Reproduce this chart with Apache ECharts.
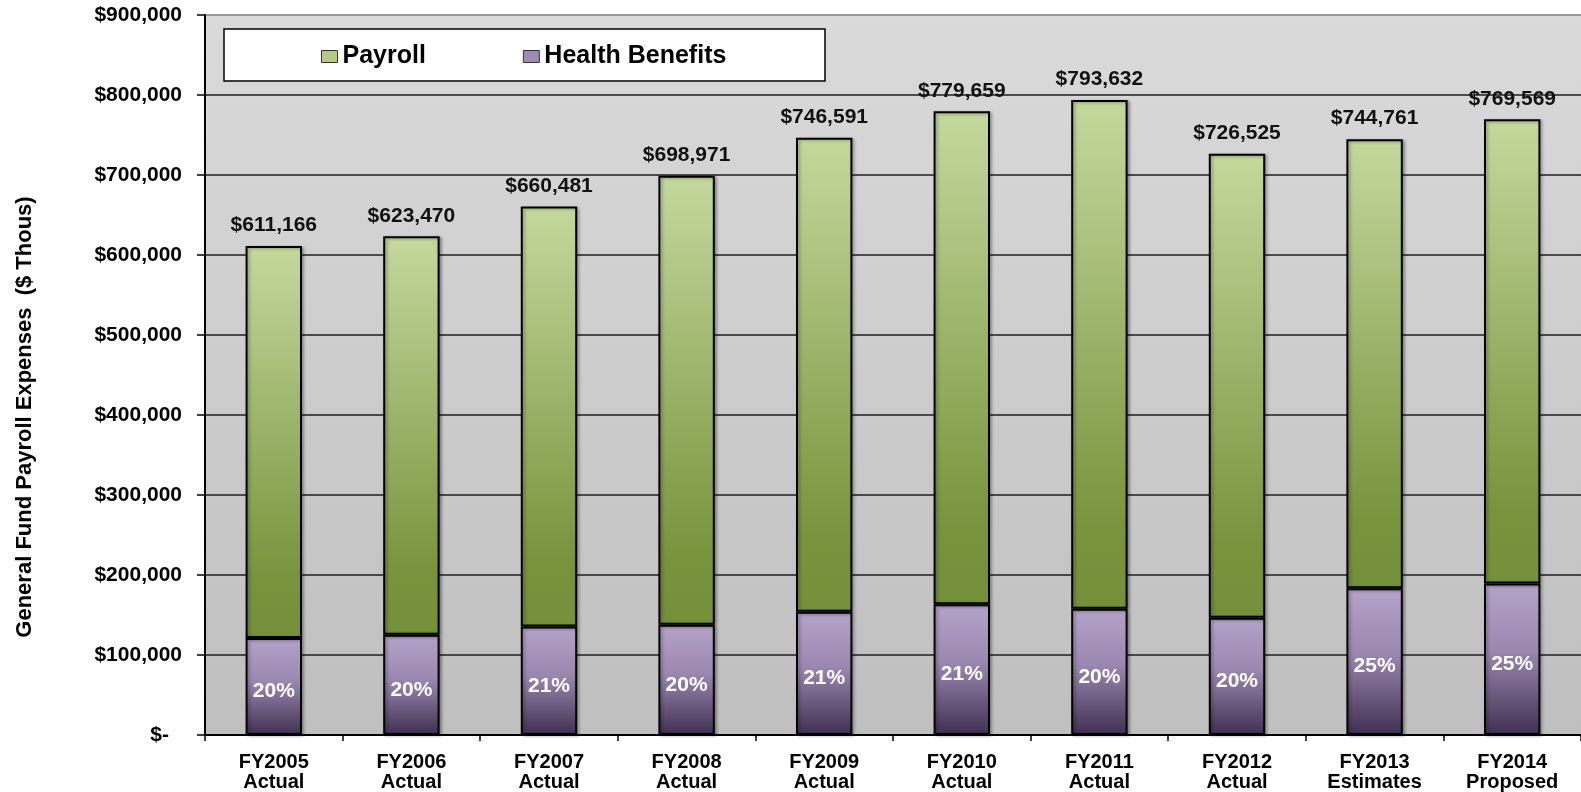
<!DOCTYPE html>
<html>
<head>
<meta charset="utf-8">
<title>General Fund Payroll Expenses</title>
<script src="https://cdn.jsdelivr.net/npm/echarts@6/dist/echarts.min.js"></script>
<style>
  html, body { margin: 0; padding: 0; background: #ffffff; }
  #chart { width: 1581px; height: 792px; }
</style>
</head>
<body>
<div id="chart"></div>
<script>
// Fiscal years shown on the category axis
const categories = [
  'FY2005\nActual', 'FY2006\nActual', 'FY2007\nActual', 'FY2008\nActual', 'FY2009\nActual',
  'FY2010\nActual', 'FY2011\nActual', 'FY2012\nActual', 'FY2013\nEstimates', 'FY2014\nProposed'
];

// Total general fund payroll expenses ($ thousands)
const totals = [611166, 623470, 660481, 698971, 746591, 779659, 793632, 726525, 744761, 769569];

// Health benefits portion of each total ($ thousands)
const health = [121100, 125200, 135700, 137800, 154000, 163500, 157700, 146500, 183500, 189500];

// Remaining payroll portion stacked on top of health benefits
const payroll = totals.map((t, i) => t - health[i]);

const FONT = '"Liberation Sans", Arial, sans-serif';

function money(v) {
  return '$' + v.toLocaleString('en-US');
}

const chart = echarts.init(document.getElementById('chart'), null, { renderer: 'canvas' });

const greenFill = new echarts.graphic.LinearGradient(0, 0, 0, 1, [
  { offset: 0, color: '#c5d89d' },
  { offset: 0.85, color: '#77933c' },
  { offset: 1, color: '#74903a' }
]);
const purpleFill = new echarts.graphic.LinearGradient(0, 0, 0, 1, [
  { offset: 0, color: '#b4a3c9' },
  { offset: 0.45, color: '#9a87b0' },
  { offset: 1, color: '#3f3050' }
]);

// Grid lines: dark for interior values, grey for the top frame line
const splitColors = ['#1e1e1e', '#1e1e1e', '#1e1e1e', '#1e1e1e', '#1e1e1e',
                     '#1e1e1e', '#1e1e1e', '#1e1e1e', '#1e1e1e', '#7f7f7f'];

const option = {
  backgroundColor: '#ffffff',
  animation: false,
  grid: {
    left: 205,
    top: 15,
    bottom: 55,
    width: 1380,
    show: true,
    borderWidth: 0,
    backgroundColor: new echarts.graphic.LinearGradient(0, 0, 0, 1, [
      { offset: 0, color: '#dadada' },
      { offset: 1, color: '#bfbfbf' }
    ])
  },
  legend: {
    z: 10,
    left: 316,
    top: 39,
    itemWidth: 16,
    itemHeight: 12,
    itemGap: 97,
    icon: 'rect',
    selectedMode: false,
    textStyle: { fontFamily: FONT, fontWeight: 'bold', fontSize: 25, color: '#000000' },
    data: [
      { name: 'Payroll', itemStyle: { color: '#b3cc84', borderColor: '#333333', borderWidth: 1 } },
      { name: 'Health Benefits', itemStyle: { color: '#9d8bb4', borderColor: '#333333', borderWidth: 1 } }
    ]
  },
  graphic: [
    {
      type: 'rect',
      z: 1,
      shape: { x: 224, y: 29, width: 601, height: 52 },
      style: { fill: '#ffffff', stroke: '#000000', lineWidth: 1.5 }
    },
    {
      type: 'text',
      z: 1,
      x: 25,
      y: 417,
      rotation: Math.PI / 2,
      style: {
        text: 'General Fund Payroll Expenses  ($ Thous)',
        fontFamily: FONT,
        fontWeight: 'bold',
        fontSize: 22,
        fill: '#000000',
        align: 'center',
        verticalAlign: 'middle'
      }
    }
  ],
  xAxis: {
    type: 'category',
    data: categories,
    boundaryGap: true,
    axisLine: { show: true, lineStyle: { color: '#000000', width: 2 } },
    axisTick: { show: true, length: 6, lineStyle: { color: '#000000', width: 1.5 } },
    axisLabel: {
      interval: 0,
      margin: 17,
      fontFamily: FONT,
      fontWeight: 'bold',
      fontSize: 20,
      lineHeight: 20,
      color: '#000000'
    },
    splitLine: { show: false }
  },
  yAxis: {
    type: 'value',
    min: 0,
    max: 900000,
    interval: 100000,
    axisLine: { show: true, lineStyle: { color: '#000000', width: 2 } },
    axisTick: { show: true, length: 8, lineStyle: { color: '#000000', width: 1.5 } },
    axisLabel: {
      margin: 23,
      fontFamily: FONT,
      fontWeight: 'bold',
      fontSize: 21,
      color: '#000000',
      formatter: v => v === 0 ? '{z|$-}' : money(v),
      rich: {
        z: { fontFamily: FONT, fontWeight: 'bold', fontSize: 21, color: '#000000', padding: [0, 13, 0, 0] }
      }
    },
    splitLine: { show: true, lineStyle: { color: splitColors, width: 1.5 } }
  },
  series: [
    {
      name: 'Health Benefits',
      type: 'bar',
      stack: 'total',
      barWidth: '41%',
      data: health,
      itemStyle: {
        color: purpleFill,
        borderColor: '#000000',
        borderWidth: 2,
        shadowColor: 'rgba(0,0,0,0.3)',
        shadowBlur: 3,
        shadowOffsetX: 2,
        shadowOffsetY: 1
      },
      label: {
        show: true,
        position: 'inside',
        offset: [0, 5],
        fontFamily: FONT,
        fontWeight: 'bold',
        fontSize: 21,
        color: '#ffffff',
        formatter: p => Math.round(health[p.dataIndex] / totals[p.dataIndex] * 100) + '%'
      }
    },
    {
      name: 'Payroll',
      type: 'bar',
      stack: 'total',
      barWidth: '41%',
      data: payroll,
      itemStyle: {
        color: greenFill,
        borderColor: '#000000',
        borderWidth: 2,
        shadowColor: 'rgba(0,0,0,0.3)',
        shadowBlur: 3,
        shadowOffsetX: 2,
        shadowOffsetY: 1
      },
      label: {
        show: true,
        position: 'top',
        distance: 10,
        fontFamily: FONT,
        fontWeight: 'bold',
        fontSize: 21,
        color: '#111111',
        formatter: p => money(totals[p.dataIndex])
      }
    }
  ]
};

chart.setOption(option);
</script>
</body>
</html>
